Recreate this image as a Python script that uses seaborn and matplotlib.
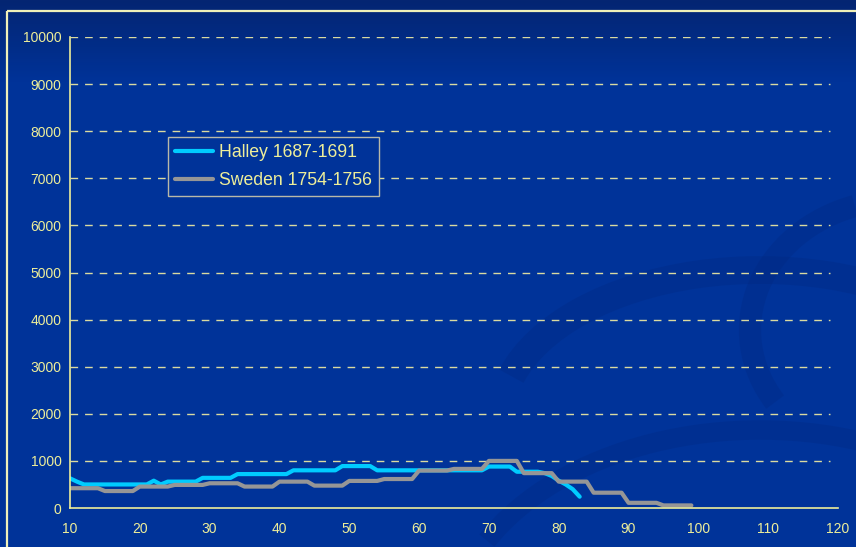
import matplotlib
matplotlib.use('Agg')
import matplotlib.pyplot as plt
import seaborn as sns
import pandas as pd
import numpy as np
from matplotlib.patches import Rectangle, Arc
from matplotlib.lines import Line2D

# ages and values
halley_ages = list(range(10, 84))
halley_vals = [630, 560,
               500, 500, 500, 500, 500, 500, 500, 500, 500, 500,
               580, 500, 560,
               560, 560, 560, 560,
               640, 640, 640, 640, 640,
               720, 720, 720, 720, 720, 720, 720, 720,
               800, 800, 800, 800, 800, 800, 800,
               890, 890, 890, 890, 890,
               800, 800, 800, 800, 800, 800, 800, 800,
               800, 800, 800, 800, 800, 800, 800, 800,
               880, 880, 880, 880,
               770, 770, 770, 770,
               740, 680, 580, 500, 400, 240]

sweden_ages = list(range(10, 100))
sweden_vals = [420, 420, 420, 420, 420,
               360, 360, 360, 360, 360,
               455, 455, 455, 455, 455,
               490, 490, 490, 490, 490,
               525, 525, 525, 525, 525,
               455, 455, 455, 455, 455,
               560, 560, 560, 560, 560,
               475, 475, 475, 475, 475,
               575, 575, 575, 575, 575,
               615, 615, 615, 615, 615,
               795, 795, 795, 795, 795,
               830, 830, 830, 830, 830,
               1000, 1000, 1000, 1000, 1000,
               740, 740, 740, 740, 740,
               560, 560, 560, 560, 560,
               325, 325, 325, 325, 325,
               110, 110, 110, 110, 110,
               55, 55, 55, 55, 55]

series_names = ['Halley 1687-1691', 'Sweden 1754-1756']
series_colors = ['#00CCFF', '#969696']
y_ticks = list(range(0, 10001, 1000))
x_ticks = list(range(10, 121, 10))

df = pd.concat([
    pd.DataFrame({'Age': halley_ages, 'Value': halley_vals, 'Series': series_names[0]}),
    pd.DataFrame({'Age': sweden_ages, 'Value': sweden_vals, 'Series': series_names[1]}),
])

sns.set_theme(style='white')
plt.rcParams['font.family'] = ['Liberation Sans', 'DejaVu Sans']

txt = '#EEEE99'
W, H = 856, 547
fig = plt.figure(figsize=(W / 100, H / 100), dpi=100)

# background: blue gradient + faint swirl + frame
bg = fig.add_axes([0, 0, 1, 1])
bg.set_xlim(0, W)
bg.set_ylim(H, 0)
bg.axis('off')
top = np.array([0x04, 0x25, 0x72]) / 255
mid = np.array([0x00, 0x33, 0x99]) / 255
t = np.clip(np.linspace(0, 1, H) / 0.15, 0, 1)[:, None]
grad = top * (1 - t) + mid * t
bg.imshow(np.repeat(grad[:, None, :], 2, axis=1), extent=[0, W, H, 0], aspect='auto', zorder=0)
for cx, cy, w, h, a1, a2, lw in [(760, 420, 520, 300, 190, 330, 20),
                                  (900, 330, 300, 260, 150, 250, 16),
                                  (760, 640, 620, 420, 200, 300, 14)]:
    bg.add_patch(Arc((cx, cy), w, h, theta1=a1, theta2=a2, color='#00287f', lw=lw, alpha=0.3, zorder=1))
bg.add_patch(Rectangle((7, 11), 1000, 1000, fill=False, ec='#F0F0B8', lw=1.6, zorder=2))

ax = fig.add_axes([70 / W, 39 / H, 768 / W, 471 / H])
ax.patch.set_alpha(0)

sns.lineplot(data=df, x='Age', y='Value', hue='Series', palette=series_colors,
             hue_order=series_names, lw=3, ax=ax, legend=False, sort=True)

ax.set_xlim(10, 120)
ax.set_ylim(0, 10000)
ax.set_xticks(x_ticks)
ax.set_yticks(y_ticks)
ax.set_xlabel('')
ax.set_ylabel('')
ax.tick_params(colors=txt, labelsize=10, length=4, width=1, direction='out')
ax.tick_params(axis='y', length=3, pad=3)
ax.tick_params(axis='x', pad=6)
for s in ['top', 'right']:
    ax.spines[s].set_visible(False)
for s in ['left', 'bottom']:
    ax.spines[s].set_color(txt)
    ax.spines[s].set_linewidth(1.2)
for y in y_ticks[1:]:
    ax.axhline(y, xmin=0, xmax=0.99, color='#DADAA0', lw=1, ls=(0, (5.5, 5)), zorder=0)

handles = [Line2D([], [], color=c, lw=3) for c in series_colors]
leg = ax.legend(handles, series_names, loc='upper left', bbox_to_anchor=(0.127, 0.788),
                frameon=True, fontsize=12.7, handlelength=2.2, handletextpad=0.3,
                borderpad=0.4, labelspacing=0.65, fancybox=False, borderaxespad=0)
leg.get_frame().set_facecolor('#003399')
leg.get_frame().set_alpha(1)
leg.get_frame().set_edgecolor('#B8B8A8')
leg.get_frame().set_linewidth(1)
for tx in leg.get_texts():
    tx.set_color(txt)

fig.savefig('out.png', dpi=100, facecolor=fig.get_facecolor())
